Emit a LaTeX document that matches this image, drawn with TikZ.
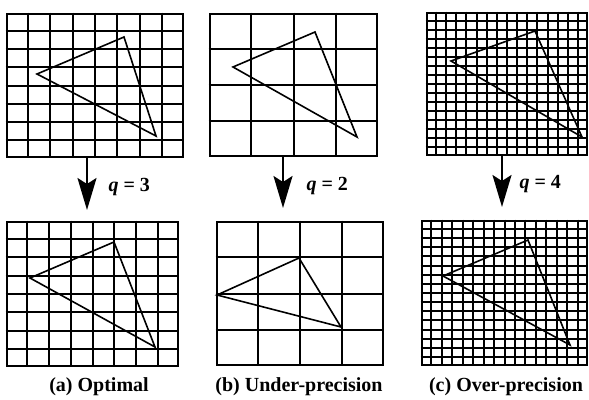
\documentclass[tikz,border=0pt]{standalone}
\usepackage{fontspec}
\setmainfont{Liberation Serif}
\usetikzlibrary{arrows.meta,calc,fit}

\tikzset{
  gridbox/.style={draw,line width=2.6pt,inner sep=0pt},
  gridline/.style={line width=2pt},
  tri/.style={line width=1.6pt,line join=miter},
  qarrow/.style={line width=2pt,-{Stealth[length=32pt,width=19pt,inset=6pt]}},
  qlabel/.style={anchor=west,font=\bfseries\fontsize{20}{20}\selectfont},
  caption/.style={font=\bfseries\fontsize{20}{20}\selectfont}
}

\newcommand{\qgrid}[2]{%
  \pgfmathtruncatemacro\qlast{#2-1}
  \foreach \k in {1,...,\qlast}{
    \draw[gridline] ($(#1.north west)!\k/#2!(#1.north east)$) -- ($(#1.south west)!\k/#2!(#1.south east)$);
    \draw[gridline] ($(#1.north west)!\k/#2!(#1.south west)$) -- ($(#1.north east)!\k/#2!(#1.south east)$);
  }
}

\begin{document}
\begin{tikzpicture}[x=1pt,y=-1pt]
\useasboundingbox (0,0) rectangle (589,399);

\node[gridbox,fit={(7,14) (183,157)}] (gridA1) {};
\node[gridbox,fit={(210,14) (377,156)}] (gridB1) {};
\node[gridbox,fit={(427,13) (587,155)}] (gridC1) {};
\qgrid{gridA1}{8}
\qgrid{gridB1}{4}
\qgrid{gridC1}{16}

\draw[tri] (37,74) -- (124,37) -- (156,136) -- cycle;
\draw[tri] (233,67) -- (315,32) -- (357,137) -- cycle;
\draw[tri] (451,61) -- (535,31) -- (582,137) -- cycle;

\node[gridbox,fit={(7,222) (178,366)}] (gridA2) {};
\node[gridbox,fit={(217,222) (383,365)}] (gridB2) {};
\node[gridbox,fit={(422,221) (587,365)}] (gridC2) {};
\qgrid{gridA2}{8}
\qgrid{gridB2}{4}
\qgrid{gridC2}{16}

\draw[tri] (30,278) -- (114,242) -- (155,347) -- cycle;
\draw[tri] (217,295) -- (299,258) -- (341,327) -- cycle;
\draw[tri] (443,276) -- (528,240) -- (570,345) -- cycle;

\coordinate (tipA) at (87,210);
\coordinate (tipB) at (283,208);
\coordinate (tipC) at (502,207);
\draw[qarrow] (gridA1.south -| tipA) -- (tipA);
\draw[qarrow] (gridB1.south -| tipB) -- (tipB);
\draw[qarrow] (gridC1.south -| tipC) -- (tipC);

\node[qlabel] (qA) at (105,187) {\textit{q} = 3};
\node[qlabel] (qB) at (303,186) {\textit{q} = 2};
\node[qlabel] (qC) at (516,184) {\textit{q} = 4};

\node[caption] (capA) at (99,387) {(a) Optimal};
\node[caption] (capB) at (299,387) {(b) Under-precision};
\node[caption] (capC) at (506,387) {(c) Over-precision};
\end{tikzpicture}
\end{document}
